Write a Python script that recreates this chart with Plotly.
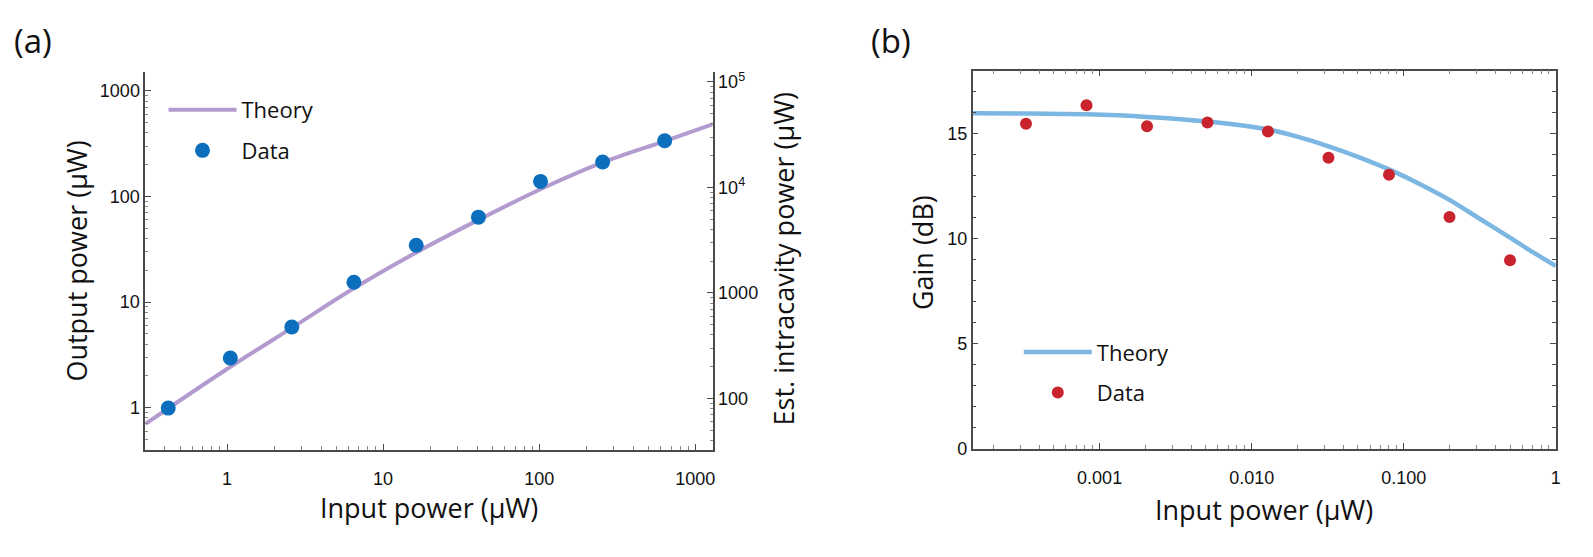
import plotly.graph_objects as go

W, H = 1593, 557

# ---------------- Panel (a) data ----------------
a_theory_x = [0.3, 1.0, 2.6, 6.5, 16.3, 40.8, 102, 255, 637, 1300]
a_theory_y = [0.70, 2.32, 5.7, 13.5, 29.5, 60, 117, 210, 335, 485]
a_data_x = [0.42, 1.05, 2.6, 6.5, 16.3, 40.8, 102, 255, 637]
a_data_y = [0.99, 2.95, 5.8, 15.4, 34.5, 63.7, 139, 212, 337]
a_x_ticks = [1, 10, 100, 1000]
a_x_ticklabels = ["1", "10", "100", "1000"]
a_y_ticks = [1, 10, 100, 1000]
a_y_ticklabels = ["1", "10", "100", "1000"]
a_y2_ticks = [100, 1000, 10000, 100000]
a_y2_ticklabels = ["100", "1000", "10<sup>4</sup>", "10<sup>5</sup>"]

# ---------------- Panel (b) data ----------------
b_theory_x = [1.46e-4, 3.3e-4, 8.2e-4, 2.05e-3, 5.12e-3, 1.28e-2, 2.0e-2, 3.2e-2,
              5.0e-2, 8e-2, 0.126, 0.2, 0.316, 0.5, 0.71, 1.0]
b_theory_y = [15.97, 15.96, 15.92, 15.8, 15.58, 15.2, 14.86, 14.4,
              13.9, 13.3, 12.62, 11.85, 10.95, 10.05, 9.35, 8.7]
b_data_x = [0.000328, 0.00082, 0.00205, 0.00512, 0.0128, 0.032, 0.08, 0.2, 0.5]
b_data_y = [15.47, 16.35, 15.35, 15.53, 15.11, 13.85, 13.04, 11.03, 8.97]
b_x_ticks = [0.001, 0.01, 0.1, 1]
b_x_ticklabels = ["0.001", "0.010", "0.100", "1"]
b_y_ticks = [0, 5, 10, 15]
b_y_ticklabels = ["0", "5", "10", "15"]


def minor_log(k0, k1):
    return [m * 10 ** k for k in range(k0, k1) for m in range(2, 10)]


PURPLE = "#b39bd0"
BLUE_DOT = "#0b6fbe"
LBLUE = "#7cb6e2"
RED = "#c9232e"
AXC = "#4a4a4a"
TICKFONT = dict(family="Liberation Sans, Arial, sans-serif", size=18, color="#111")
TEXTFONT = "Open Sans, sans-serif"

fig = go.Figure()

fig.add_trace(go.Scatter(x=a_theory_x, y=a_theory_y, mode="lines", name="Theory",
                         line=dict(color=PURPLE, width=4, shape="spline"),
                         xaxis="x", yaxis="y", legend="legend", legendgroup="at"))
fig.add_trace(go.Scatter(x=a_data_x, y=a_data_y, mode="markers", name="Data",
                         marker=dict(color=BLUE_DOT, size=15),
                         xaxis="x", yaxis="y", legend="legend", legendgroup="ad"))
fig.add_trace(go.Scatter(x=[1], y=[1000], mode="markers", showlegend=False,
                         marker=dict(opacity=0), hoverinfo="skip",
                         xaxis="x", yaxis="y3"))

fig.add_trace(go.Scatter(x=b_theory_x, y=b_theory_y, mode="lines", name="Theory",
                         line=dict(color=LBLUE, width=4.5, shape="spline", smoothing=0.8),
                         xaxis="x2", yaxis="y2", legend="legend2", legendgroup="bt"))
fig.add_trace(go.Scatter(x=b_data_x, y=b_data_y, mode="markers", name="Data",
                         marker=dict(color=RED, size=12),
                         xaxis="x2", yaxis="y2", legend="legend2", legendgroup="bd"))

common = dict(showline=True, linecolor=AXC, linewidth=1.5, ticks="inside",
              tickcolor=AXC, tickwidth=1, ticklen=6, showgrid=False, zeroline=False,
              tickfont=TICKFONT)

legend_common = dict(xanchor="left", yanchor="top", bgcolor="rgba(0,0,0,0)",
                     itemwidth=68, tracegroupgap=9, traceorder="grouped",
                     font=dict(family=TEXTFONT, size=22, color="#111"))

fig.update_layout(
    width=W, height=H, margin=dict(l=0, r=0, t=0, b=0),
    paper_bgcolor="white", plot_bgcolor="white",
    xaxis=dict(type="log", domain=[145.7 / W, 715 / W], range=[-0.524, 3.112],
               anchor="y", mirror=False, tickmode="array", tickvals=a_x_ticks,
               ticktext=a_x_ticklabels, ticklabelstandoff=12,
               minor=dict(ticks="inside", tickmode="array", tickvals=minor_log(-1, 4),
                          ticklen=3.5, tickcolor="#888", tickwidth=1),
               **common),
    yaxis=dict(type="log", domain=[1 - 457.3 / H, 1 - 71 / H], range=[-0.398, 3.176],
               anchor="x", tickmode="array", tickvals=a_y_ticks, ticktext=a_y_ticklabels,
               minor=dict(ticks="inside", tickmode="array", tickvals=minor_log(-1, 4),
                          ticklen=3.5, tickcolor="#888", tickwidth=1),
               **common),
    yaxis3=dict(type="log", overlaying="y", side="right", anchor="x", range=[1.516, 5.09],
                tickmode="array", tickvals=a_y2_ticks, ticktext=a_y2_ticklabels,
                minor=dict(ticks="inside", tickmode="array", tickvals=minor_log(1, 6),
                           ticklen=3.5, tickcolor="#888", tickwidth=1),
                **common),
    xaxis2=dict(type="log", domain=[975.7 / W, 1560.7 / W], range=[-3.835, 0],
                anchor="y2", mirror="ticks", tickmode="array", tickvals=b_x_ticks,
                ticktext=b_x_ticklabels, ticklabelstandoff=12,
                minor=dict(ticks="inside", tickmode="array", tickvals=minor_log(-4, 0),
                           ticklen=3.5, tickcolor="#888", tickwidth=1),
                **common),
    yaxis2=dict(domain=[1 - 456.4 / H, 1 - 69.3 / H], range=[0, 18], anchor="x2",
                mirror="ticks", tickmode="array", tickvals=b_y_ticks, ticktext=b_y_ticklabels,
                minor=dict(ticks="inside", dtick=1, ticklen=4, tickcolor=AXC, tickwidth=1),
                **common),
    legend=dict(x=164 / W, y=1 - 88 / H, **legend_common),
    legend2=dict(x=1022 / W, y=1 - 336 / H, **legend_common),
)

ann = [
    dict(text="(a)", x=33, y=38, size=33, angle=0),
    dict(text="(b)", x=894, y=38, size=33, angle=0),
    dict(text="Output power (μW)", x=77, y=264, size=27, angle=-90),
    dict(text="Est. intracavity power (μW)", x=786, y=262, size=27, angle=-90),
    dict(text="Input power (μW)", x=430, y=517, size=27, angle=0),
    dict(text="Gain (dB)", x=925, y=256, size=27, angle=-90),
    dict(text="Input power (μW)", x=1268, y=519, size=27, angle=0),
]
for a in ann:
    fig.add_annotation(text=a["text"], x=a["x"] / W, y=1 - a["y"] / H, xref="paper", yref="paper",
                       xanchor="center", yanchor="middle", showarrow=False, textangle=a["angle"],
                       font=dict(family=TEXTFONT, size=a["size"], color="#111"))

fig.write_html("out.html")
